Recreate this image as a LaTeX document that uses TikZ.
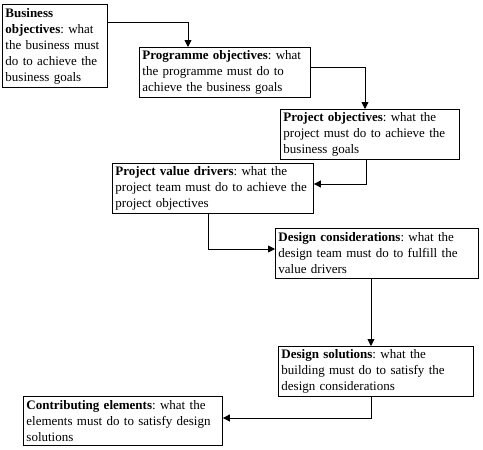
\documentclass[tikz,border=0pt]{standalone}
\usepackage{fontspec}
\setmainfont{Liberation Serif}
\usetikzlibrary{arrows.meta}
\tikzset{
  box/.style={draw, line width=0.9pt, anchor=north west, align=left, inner sep=3pt,
    font=\frenchspacing\fontsize{13}{16}\selectfont},
  conn/.style={line width=0.9pt, -{Triangle[length=7pt,width=7pt]}}
}
\newcommand{\bx}[6]{\node[box, minimum width=#4-#2, minimum height=#5-#3, text width=#4-#2-6pt] (#1) at (#2,#3) {#6};}
\begin{document}
\begin{tikzpicture}[x=1pt,y=-1pt]
\useasboundingbox (0,0) rectangle (483,450);
\bx{b1}{2pt}{4}{107pt}{87pt}{\textbf{Business}\\\textbf{objectives}: what\\the business must\\do to achieve the\\business goals}
\bx{b2}{139pt}{47}{310pt}{96pt}{\textbf{Programme objectives}: what\\the programme must do to\\achieve the business goals}
\bx{b3}{280pt}{109}{459pt}{158pt}{\textbf{Project objectives}: what the\\project must do to achieve the\\business goals}
\bx{b4}{112pt}{163}{313pt}{211pt}{\textbf{Project value drivers}: what the\\project team must do to achieve the\\project objectives}
\bx{b5}{275pt}{228}{478pt}{278pt}{\textbf{Design considerations}: what the\\design team must do to fulfill the\\value drivers}
\bx{b6}{278pt}{346}{473pt}{395pt}{\textbf{Design solutions}: what the\\building must do to satisfy the\\design considerations}
\bx{b7}{23pt}{396}{222pt}{445pt}{\textbf{Contributing elements}: what the\\elements must do to satisfy design\\solutions}
\coordinate (c1) at (188,22);
\coordinate (c2) at (365,67);
\coordinate (c3) at (366,184);
\coordinate (c4) at (208,249);
\coordinate (c5) at (371,300);
\coordinate (c6) at (371,418);
\draw[conn] (b1.east |- c1) -| (b2.north -| c1);
\draw[conn] (b2.east |- c2) -| (b3.north -| c2);
\draw[conn] (b3.south -| c3) |- (b4.east |- c3);
\draw[conn] (b4.south -| c4) |- (b5.west |- c4);
\draw[conn] (b5.south -| c5) -- (b6.north -| c5);
\draw[conn] (b6.south -| c6) |- (b7.east |- c6);
\end{tikzpicture}
\end{document}
